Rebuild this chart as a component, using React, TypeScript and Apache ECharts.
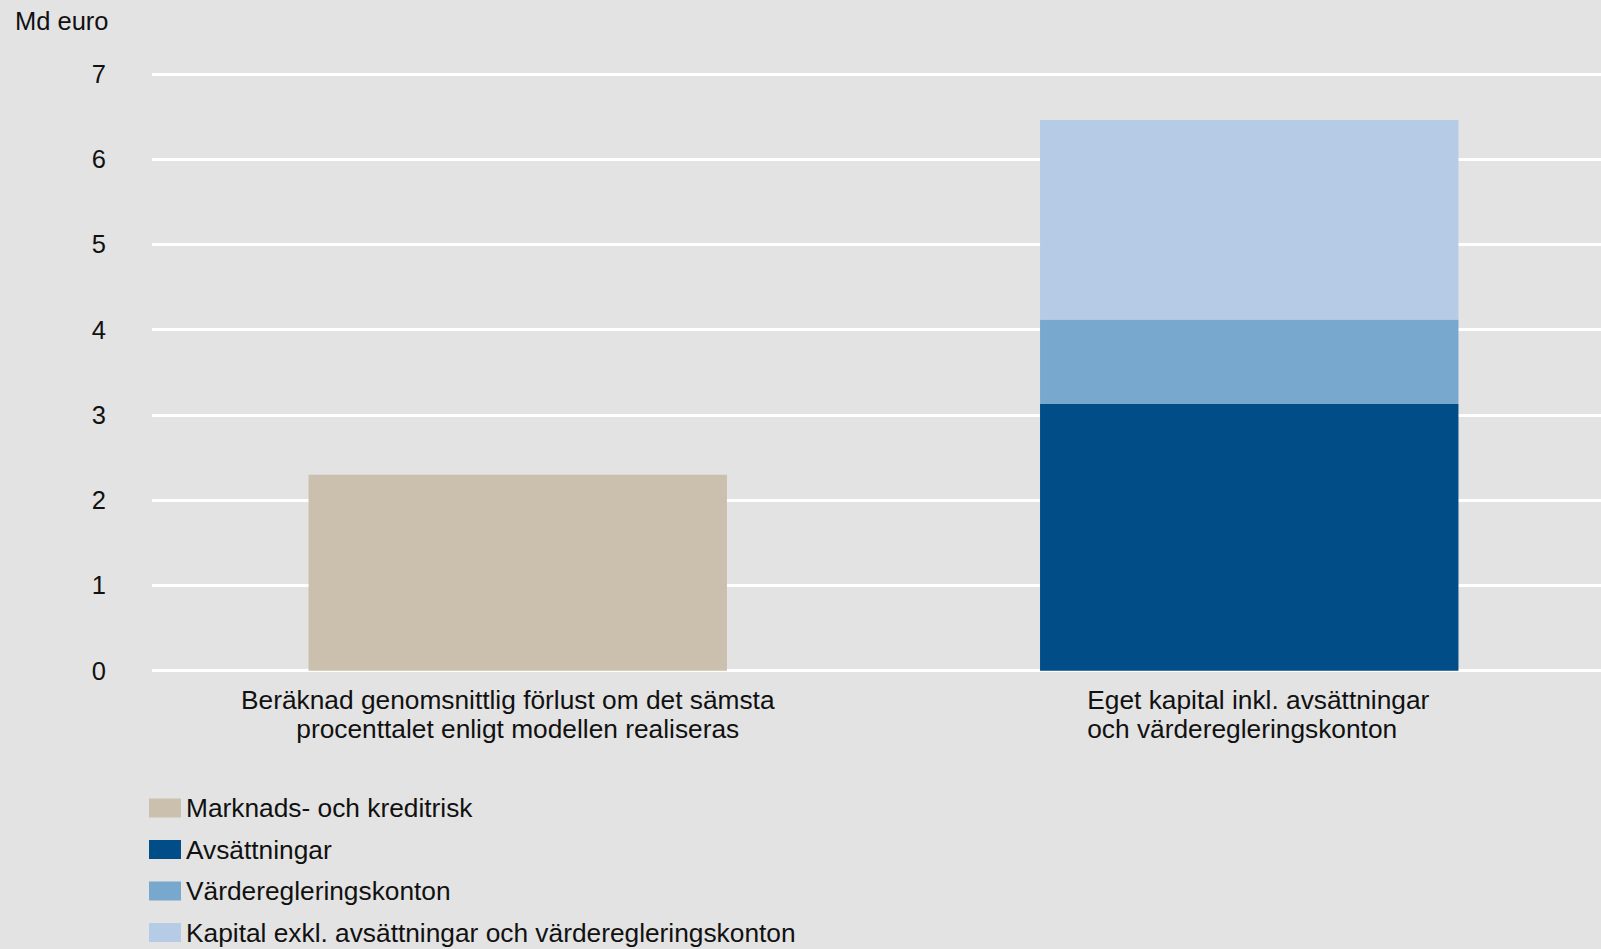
import React, { useEffect, useRef } from "react";
import * as echarts from "echarts";

const categories = [
  "Beräknad genomsnittlig förlust om det sämsta\nprocenttalet enligt modellen realiseras",
  "Eget kapital inkl. avsättningar\noch värderegleringskonton",
];
const seriesNames = [
  "Marknads- och kreditrisk",
  "Avsättningar",
  "Värderegleringskonton",
  "Kapital exkl. avsättningar och värderegleringskonton",
];
const marknadsValues = [2.3, null];
const avsattningarValues = [null, 3.13];
const varderegleringValues = [null, 0.99];
const kapitalValues = [null, 2.34];
const yTicks = [0, 1, 2, 3, 4, 5, 6, 7];
const colors = ["#cbbfad", "#004d88", "#79a8cf", "#b6cbe5"];

const FONT = "'Liberation Sans', Arial, sans-serif";
const FS = 26.3;

export default function App() {
  const ref = useRef<HTMLDivElement>(null);
  useEffect(() => {
    if (!ref.current) return;
    const chart = echarts.init(ref.current, undefined, { renderer: "svg" });
    const values = [marknadsValues, avsattningarValues, varderegleringValues, kapitalValues];
    chart.setOption({
      animation: false,
      backgroundColor: "#e3e3e3",
      textStyle: { fontFamily: FONT, color: "#111" },
      grid: {
        left: 152,
        width: 1463,
        top: 74,
        bottom: 278.3,
        containLabel: false,
        outerBoundsMode: "none",
      },
      graphic: [
        {
          type: "text",
          left: 15,
          top: 8,
          style: { text: "Md euro", fontFamily: FONT, fontSize: 25.5, fill: "#111" },
        },
      ],
      legend: {
        orient: "vertical",
        left: 149,
        top: 795,
        itemWidth: 32,
        itemHeight: 19,
        itemGap: 15.5,
        padding: 0,
        icon: "rect",
        data: seriesNames,
        textStyle: { fontFamily: FONT, fontSize: FS, color: "#111", lineHeight: 26 },
      },
      xAxis: {
        type: "category",
        data: categories,
        axisLine: { show: false },
        axisTick: { show: false },
        axisLabel: {
          interval: 0,
          margin: 15,
          fontFamily: FONT,
          fontSize: FS,
          lineHeight: 29,
          color: "#111",
          formatter: (v: string, idx: number) => {
            const lines = v.split("\n");
            if (idx === 1) {
              return lines.map((l) => "{l|" + l + "}").join("\n");
            }
            return "{c1|" + lines[0] + "}\n{c|" + lines[1] + "}";
          },
          rich: {
            l: { fontFamily: FONT, fontSize: FS, lineHeight: 29, color: "#111", align: "left", padding: [0, 0, 0, 18] },
            c: { fontFamily: FONT, fontSize: FS, lineHeight: 29, color: "#111", align: "center" },
            c1: { fontFamily: FONT, fontSize: FS, lineHeight: 29, color: "#111", align: "center", padding: [0, 20, 0, 0] },
          },
        },
      },
      yAxis: {
        type: "value",
        min: 0,
        max: 7,
        interval: 1,
        axisLine: { show: false },
        axisTick: { show: false },
        axisLabel: {
          margin: 46,
          fontFamily: FONT,
          fontSize: 25.5,
          color: "#111",
          padding: [0, 0, 3, 0],
          formatter: (v: number) => (yTicks.includes(v) ? String(v) : ""),
        },
        splitLine: { show: true, lineStyle: { color: "#ffffff", width: 3 } },
      },
      series: seriesNames.map((name, i) => ({
        name,
        type: "bar",
        stack: "total",
        barWidth: "57.2%",
        data: values[i],
        itemStyle: { color: colors[i] },
        z: 3,
      })),
    });
    return () => chart.dispose();
  }, []);
  return (
    <div
      ref={ref}
      style={{ position: "fixed", left: 0, top: 0, width: 1601, height: 949 }}
    />
  );
}
